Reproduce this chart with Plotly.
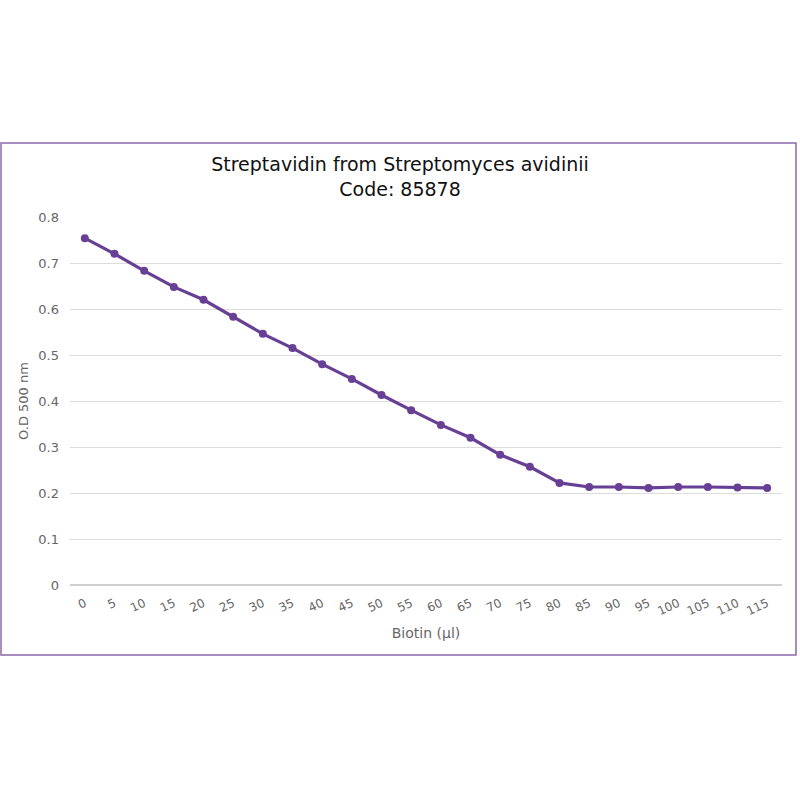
import plotly.graph_objects as go

# Biotin (µl) vs O.D 500 nm
biotin = [0, 5, 10, 15, 20, 25, 30, 35, 40, 45, 50, 55,
          60, 65, 70, 75, 80, 85, 90, 95, 100, 105, 110, 115]
od500 = [0.754, 0.720, 0.683, 0.648, 0.620, 0.583, 0.546, 0.515,
         0.480, 0.448, 0.413, 0.380, 0.348, 0.320, 0.283, 0.257,
         0.222, 0.213, 0.213, 0.211, 0.213, 0.213, 0.212, 0.211]
y_ticks = [0, 0.1, 0.2, 0.3, 0.4, 0.5, 0.6, 0.7, 0.8]
y_labels = ['0', '0.1', '0.2', '0.3', '0.4', '0.5', '0.6', '0.7', '0.8']

W, H = 800, 800
ml, mr, mt, mb = 70, 18, 217, 215
pw, ph = W - ml - mr, H - mt - mb

purple = '#673f95'
font = 'DejaVu Sans, Verdana, sans-serif'

fig = go.Figure()
fig.add_trace(go.Scatter(
    x=[str(b) for b in biotin],
    y=od500,
    mode='lines+markers',
    line=dict(color=purple, width=3.2),
    marker=dict(color=purple, size=8),
    showlegend=False,
))


# frame around the chart, given in pixels and converted to paper coords
def px_x(p):
    return (p - ml) / pw


def px_y(p):
    return (H - mb - p) / ph


fig.add_shape(type='rect', xref='paper', yref='paper',
              x0=px_x(1), x1=px_x(796), y0=px_y(655), y1=px_y(143),
              line=dict(color='#8a6aab', width=1.5), layer='below')

fig.update_layout(
    width=W, height=H,
    margin=dict(l=ml, r=mr, t=mt, b=mb),
    paper_bgcolor='white',
    plot_bgcolor='white',
    font=dict(family=font, color='#666666'),
    title=dict(
        text='Streptavidin from Streptomyces avidinii<br>Code: 85878',
        x=0.5, xanchor='center',
        y=1 - 171 / H, yanchor='middle', yref='container',
        font=dict(size=19, color='#111111', family=font),
    ),
    xaxis=dict(
        type='category',
        range=[-0.5, len(biotin) - 0.5],
        showgrid=False,
        showline=False,
        zeroline=False,
        ticks='outside',
        ticklen=6,
        tickcolor='rgba(0,0,0,0)',
        tickangle=-25,
        tickfont=dict(size=12, color='#666666'),
        title=dict(text='Biotin (µl)', font=dict(size=14, color='#666666'), standoff=10),
    ),
    yaxis=dict(
        range=[0, 0.8],
        tickvals=y_ticks,
        ticktext=y_labels,
        showgrid=True,
        gridcolor='#dcdcdc',
        gridwidth=1,
        zeroline=True,
        zerolinecolor='#d0d0d0',
        zerolinewidth=2,
        ticks='',
        ticklabelstandoff=10,
        tickfont=dict(size=13, color='#666666'),
        title=dict(text='O.D 500 nm', font=dict(size=13, color='#666666'), standoff=6),
    ),
)

fig.write_html('out.html', config={'displayModeBar': False},
               post_script="document.body.style.margin='0';")
